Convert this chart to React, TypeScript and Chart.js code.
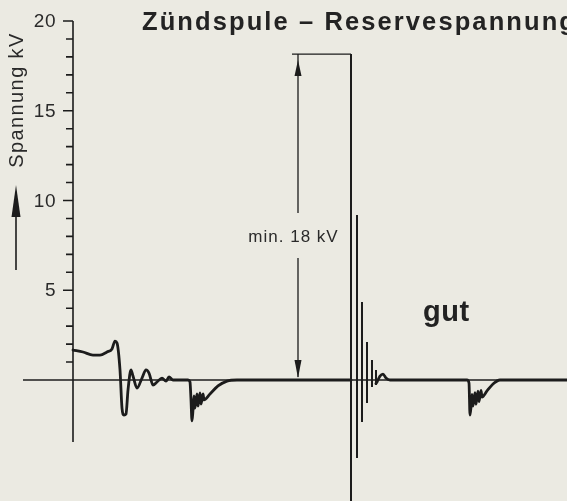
import React, { useEffect, useRef } from "react";
import { Chart, registerables } from "chart.js";

Chart.register(...registerables);

// ---- texts ----
const chartTitle = "Zündspule – Reservespannung";
const yAxisTitle = "Spannung kV";
const annotationLabel = "min. 18 kV";
const verdictLabel = "gut";

// ---- axis ----
const yMin = -6.74;
const yMax = 20;
const xMin = -5;
const xMax = 49.4;
const yAxisBottom = -3.45;
const yMajorTicks = [5, 10, 15, 20];
const yMinorTicks = [1, 2, 3, 4, 6, 7, 8, 9, 11, 12, 13, 14, 16, 17, 18, 19];

// ---- oscilloscope trace (time units, kV) ----
const traceX = [
  0, 1.0, 2.0, 2.7, 3.4, 3.9, 4.2, 4.4, 4.7, 4.9, 5.1, 5.3, 5.5, 5.8, 6.0, 6.4, 6.9, 7.3, 7.6, 8.0,
  8.4, 8.9, 9.3, 9.6, 10.0, 11.5, 11.7, 11.8, 11.9, 12.0, 12.1, 12.2, 12.4, 12.5, 12.7, 12.8, 13.0,
  13.1, 13.7, 14.5, 15.4, 16.4, 27.8,
];
const traceY = [
  1.67, 1.56, 1.39, 1.39, 1.56, 1.73, 2.17, 2.06, 0.56, -1.56, -1.95, -1.89, -0.56, 0.56, 0.22, -0.45,
  0.11, 0.56, 0.39, -0.28, -0.11, 0.11, -0.06, 0.17, 0, 0, -0.11, -1.11, -2.28, -1.67, -0.89, -1.56,
  -0.78, -1.45, -0.72, -1.34, -0.78, -1.11, -0.78, -0.33, -0.06, 0, 0,
];

// ---- ignition spike lines (damped oscillation) ----
const spikeX = [27.8, 28.4, 28.9, 29.4, 29.9, 30.3];
const spikeTop = [18.16, 9.19, 4.35, 2.12, 1.11, 0.56];
const spikeBottom = [-7.5, -4.35, -2.34, -1.28, -0.39, -0.28];

// ---- trace after spike ----
const afterX = [
  30.3, 30.4, 30.7, 31.0, 31.3, 31.7, 39.4, 39.6, 39.7, 39.8, 39.9, 40.0, 40.2, 40.3, 40.5, 40.6, 40.8,
  40.9, 41.4, 42.0, 42.7, 49.4,
];
const afterY = [
  -0.2, -0.11, 0.22, 0.33, 0.11, 0, 0, -0.17, -1.95, -1.5, -0.8, -1.45, -0.7, -1.35, -0.62, -1.2,
  -0.58, -0.95, -0.61, -0.22, 0, 0,
];

// ---- annotation ----
const reserveVoltage = 18.16;
const annotationX = 22.5;
const annotationLeft = 21.9;
const labelGapTop = 9.3;
const labelGapBottom = 6.8;
const labelValueY = 7.69;
const labelX = 22.05;
const verdictX = 35.0;
const verdictY = 3.29;

const INK = "#1c1c1c";
const PAPER = "#ebeae2";

export default function App() {
  const ref = useRef<HTMLCanvasElement | null>(null);

  useEffect(() => {
    const canvas = ref.current;
    if (!canvas) return;

    const tracePts = traceX.map((x, i) => ({ x, y: traceY[i] }));
    const afterPts = afterX.map((x, i) => ({ x, y: afterY[i] }));
    const spikePts: { x: number; y: number | null }[] = [];
    spikeX.forEach((x, i) => {
      spikePts.push({ x, y: 0 });
      spikePts.push({ x, y: spikeTop[i] });
      spikePts.push({ x, y: spikeBottom[i] });
      spikePts.push({ x, y: null });
    });

    const decor = {
      id: "decor",
      beforeDraw(chart: any) {
        const c = chart.ctx;
        c.save();
        c.fillStyle = PAPER;
        c.fillRect(0, 0, chart.width, chart.height);
        c.restore();
      },
      afterDatasetsDraw(chart: any) {
        const c: CanvasRenderingContext2D = chart.ctx;
        const xs = chart.scales.x;
        const ys = chart.scales.y;
        const px = (v: number) => xs.getPixelForValue(v);
        const py = (v: number) => ys.getPixelForValue(v);
        c.save();
        c.strokeStyle = INK;
        c.fillStyle = INK;

        // y-axis ticks
        const ax = px(0);
        c.lineWidth = 1.6;
        c.beginPath();
        yMajorTicks.forEach((t) => {
          c.moveTo(ax - 10, py(t));
          c.lineTo(ax, py(t));
        });
        yMinorTicks.forEach((t) => {
          c.moveTo(ax - 7, py(t));
          c.lineTo(ax, py(t));
        });
        c.stroke();

        // tick labels
        c.font = "19px 'Liberation Sans', Arial, sans-serif";
        (c as any).letterSpacing = "0.5px";
        c.textAlign = "right";
        c.textBaseline = "middle";
        c.fillStyle = "#2a2a2a";
        yMajorTicks.forEach((t) => c.fillText(String(t), ax - 17, py(t) + 1));

        // y-axis title (rotated) + arrow
        c.save();
        c.translate(17, 100);
        c.rotate(-Math.PI / 2);
        c.font = "20px 'Liberation Sans', Arial, sans-serif";
        (c as any).letterSpacing = "1.4px";
        c.textAlign = "center";
        c.textBaseline = "middle";
        c.fillText(yAxisTitle, 0, 0);
        c.restore();

        c.lineWidth = 1.6;
        c.strokeStyle = INK;
        c.beginPath();
        c.moveTo(16, 270);
        c.lineTo(16, 210);
        c.stroke();
        c.fillStyle = INK;
        c.beginPath();
        c.moveTo(16, 185);
        c.lineTo(11.5, 217);
        c.lineTo(20.5, 217);
        c.closePath();
        c.fill();

        // title
        c.font = "bold 25.5px 'Liberation Sans', Arial, sans-serif";
        (c as any).letterSpacing = "2.1px";
        c.textAlign = "left";
        c.textBaseline = "alphabetic";
        c.fillStyle = "#232323";
        c.fillText(chartTitle, 142, 30);

        // annotation: min 18 kV
        const axp = px(annotationX);
        c.lineWidth = 1.3;
        c.strokeStyle = INK;
        c.beginPath();
        c.moveTo(px(annotationLeft), py(reserveVoltage));
        c.lineTo(px(spikeX[0]), py(reserveVoltage));
        c.moveTo(axp, py(reserveVoltage));
        c.lineTo(axp, py(labelGapTop));
        c.moveTo(axp, py(labelGapBottom));
        c.lineTo(axp, py(0) - 3);
        c.stroke();
        c.fillStyle = INK;
        const topTip = py(reserveVoltage) + 6;
        c.beginPath();
        c.moveTo(axp, topTip);
        c.lineTo(axp - 3.5, topTip + 16);
        c.lineTo(axp + 3.5, topTip + 16);
        c.closePath();
        c.fill();
        const botTip = py(0) - 2;
        c.beginPath();
        c.moveTo(axp, botTip);
        c.lineTo(axp - 3.5, botTip - 18);
        c.lineTo(axp + 3.5, botTip - 18);
        c.closePath();
        c.fill();

        c.font = "17px 'Liberation Sans', Arial, sans-serif";
        (c as any).letterSpacing = "1px";
        c.textAlign = "center";
        c.textBaseline = "alphabetic";
        c.fillStyle = "#2a2a2a";
        c.fillText(annotationLabel, px(labelX), py(labelValueY));

        // verdict
        c.font = "bold 29px 'Liberation Sans', Arial, sans-serif";
        (c as any).letterSpacing = "0.5px";
        c.textAlign = "left";
        c.fillStyle = "#222";
        c.fillText(verdictLabel, px(verdictX), py(verdictY));

        (c as any).letterSpacing = "0px";
        c.restore();
      },
    };

    const chart = new Chart(canvas, {
      type: "line",
      data: {
        datasets: [
          {
            data: [
              { x: xMin, y: 0 },
              { x: xMax, y: 0 },
            ],
            borderColor: INK,
            borderWidth: 1.5,
            pointRadius: 0,
          },
          {
            data: [
              { x: 0, y: yMax },
              { x: 0, y: yAxisBottom },
            ],
            borderColor: INK,
            borderWidth: 1.6,
            pointRadius: 0,
          },
          {
            data: tracePts,
            borderColor: INK,
            borderWidth: 2.8,
            pointRadius: 0,
            cubicInterpolationMode: "monotone",
            borderJoinStyle: "round",
            borderCapStyle: "round",
          },
          {
            data: spikePts as any,
            borderColor: INK,
            borderWidth: 2,
            pointRadius: 0,
            spanGaps: false,
          },
          {
            data: afterPts,
            borderColor: INK,
            borderWidth: 2.8,
            pointRadius: 0,
            cubicInterpolationMode: "monotone",
            borderJoinStyle: "round",
            borderCapStyle: "round",
          },
        ],
      },
      options: {
        animation: false,
        responsive: false,
        devicePixelRatio: 1,
        parsing: false as any,
        layout: { padding: { left: 23, top: 21, right: 0, bottom: 0 } },
        plugins: { legend: { display: false }, tooltip: { enabled: false }, title: { display: false } },
        elements: { line: { tension: 0 } },
        scales: {
          x: { type: "linear", min: xMin, max: xMax, display: false },
          y: { type: "linear", min: yMin, max: yMax, display: false },
        },
      },
      plugins: [decor],
    });

    return () => chart.destroy();
  }, []);

  return (
    <canvas
      ref={ref}
      width={567}
      height={501}
      style={{ position: "absolute", left: 0, top: 0, display: "block" }}
    />
  );
}
